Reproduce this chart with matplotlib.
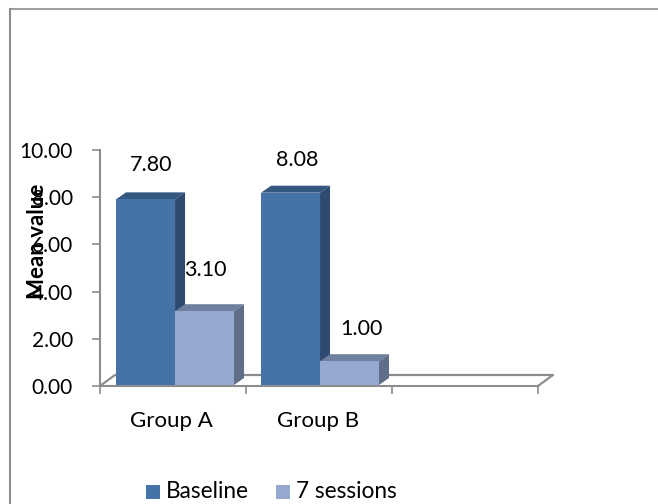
import numpy as np
import matplotlib
matplotlib.use('Agg')
import matplotlib.pyplot as plt
from matplotlib.lines import Line2D
from matplotlib.patches import Polygon, Rectangle

plt.rcParams['font.family'] = ['Lato', 'DejaVu Sans']

groups = ['Group A', 'Group B', '']
series_names = ['Baseline', '7 sessions']
baseline = [7.80, 8.08]
sessions = [3.10, 1.00]
y_ticks = [0, 2, 4, 6, 8, 10]

W, H = 658, 504
GREY = '#8c8c8c'
FRONT = ['#4572a7', '#95a9d0']
TOP = ['#34587f', '#6f7f9e']
SIDE = ['#2e4a70', '#5f6d88']


def Draw_Bar(ax, x0, width, value, i):
	# depth of the fake 3d box, in data units
	dx = 10 / 146
	dy = 7 / 23.8
	ax.bar(x0, value, width, align='edge', color=FRONT[i], zorder=3)
	ax.add_patch(Polygon([(x0, value), (x0 + dx, value + dy), (x0 + width + dx, value + dy), (x0 + width, value)],
		color=TOP[i], lw=0, zorder=2))
	ax.add_patch(Polygon([(x0 + width, 0), (x0 + width + dx, dy), (x0 + width + dx, value + dy), (x0 + width, value)],
		color=SIDE[i], lw=0, zorder=2))


fig = plt.figure(figsize=(W / 100, H / 100), dpi=100)

# outer chart frame, only top and left are in the crop
fig.add_artist(Line2D([9.5 / W, 9.5 / W], [0, 1 - 9 / H], color=GREY, lw=1.5))
fig.add_artist(Line2D([9.5 / W, 1], [1 - 9 / H, 1 - 9 / H], color=GREY, lw=1.2))

rect = [100 / W, 1 - 386 / H, 438 / W, 236 / H]
ax = fig.add_axes(rect)
ax.set_xlim(0, 3)
ax.set_ylim(0, 10)
ax.patch.set_alpha(0)
for s in ['top', 'right']:
	ax.spines[s].set_visible(False)
for s in ['left', 'bottom']:
	ax.spines[s].set_color(GREY)
	ax.spines[s].set_linewidth(1.5)
ax.set_yticks(y_ticks)
ax.set_yticklabels(['%.2f' % t for t in y_ticks], fontsize=15, color='black')
ax.set_xticks([0, 1, 2, 3])
ax.set_xticklabels([])
ax.tick_params(axis='y', length=6, width=1.2, color=GREY, pad=13.5)
ax.tick_params(axis='x', length=6, width=1.2, color=GREY)
for i, g in enumerate(groups):
	ax.annotate(g, (i + 0.5, 0), xycoords=('data', 'axes fraction'), xytext=(-1, -18),
		textcoords='offset points', ha='center', va='top', fontsize=16)

# floor of the 3d plot
ax.plot([0, 15 / 146, 3 + 15 / 146, 3], [0, 11 / 23.6, 11 / 23.6, 0], color=GREY, lw=1.6,
	clip_on=False, zorder=1)

# bars sit on the front plane, scale is slightly bigger than the axis
bar_ax = fig.add_axes(rect)
bar_ax.set_xlim(0, 3)
bar_ax.set_ylim(-1 / 23.8, 236 / 23.8 - 1 / 23.8)
bar_ax.axis('off')

starts = np.array([0.11, 1.103])
width = 0.404
for k in range(len(baseline)):
	Draw_Bar(bar_ax, starts[k], width, baseline[k], 0)
	Draw_Bar(bar_ax, starts[k] + width, width, sessions[k], 1)

label_pos = [(151, 165), (205, 270), (297, 160), (361, 329)]
label_vals = [baseline[0], sessions[0], baseline[1], sessions[1]]
for v, (px, py) in zip(label_vals, label_pos):
	fig.text(px / W, 1 - py / H, '%.2f' % v, ha='center', va='center', fontsize=15.5, zorder=6)

fig.text(37 / W, 1 - 241 / H, 'Mean value', rotation=90, ha='center', va='center',
	fontsize=16, fontweight='bold', zorder=6)

# legend
for i, (sx, tx) in enumerate([(146, 166), (276, 296)]):
	fig.add_artist(Rectangle((sx / W, 1 - 499 / H), 14 / W, 14 / H, transform=fig.transFigure,
		color=FRONT[i], lw=0))
	fig.text(tx / W, 1 - 492 / H, series_names[i], ha='left', va='center', fontsize=16.3)

fig.savefig('out.png', dpi=100)
